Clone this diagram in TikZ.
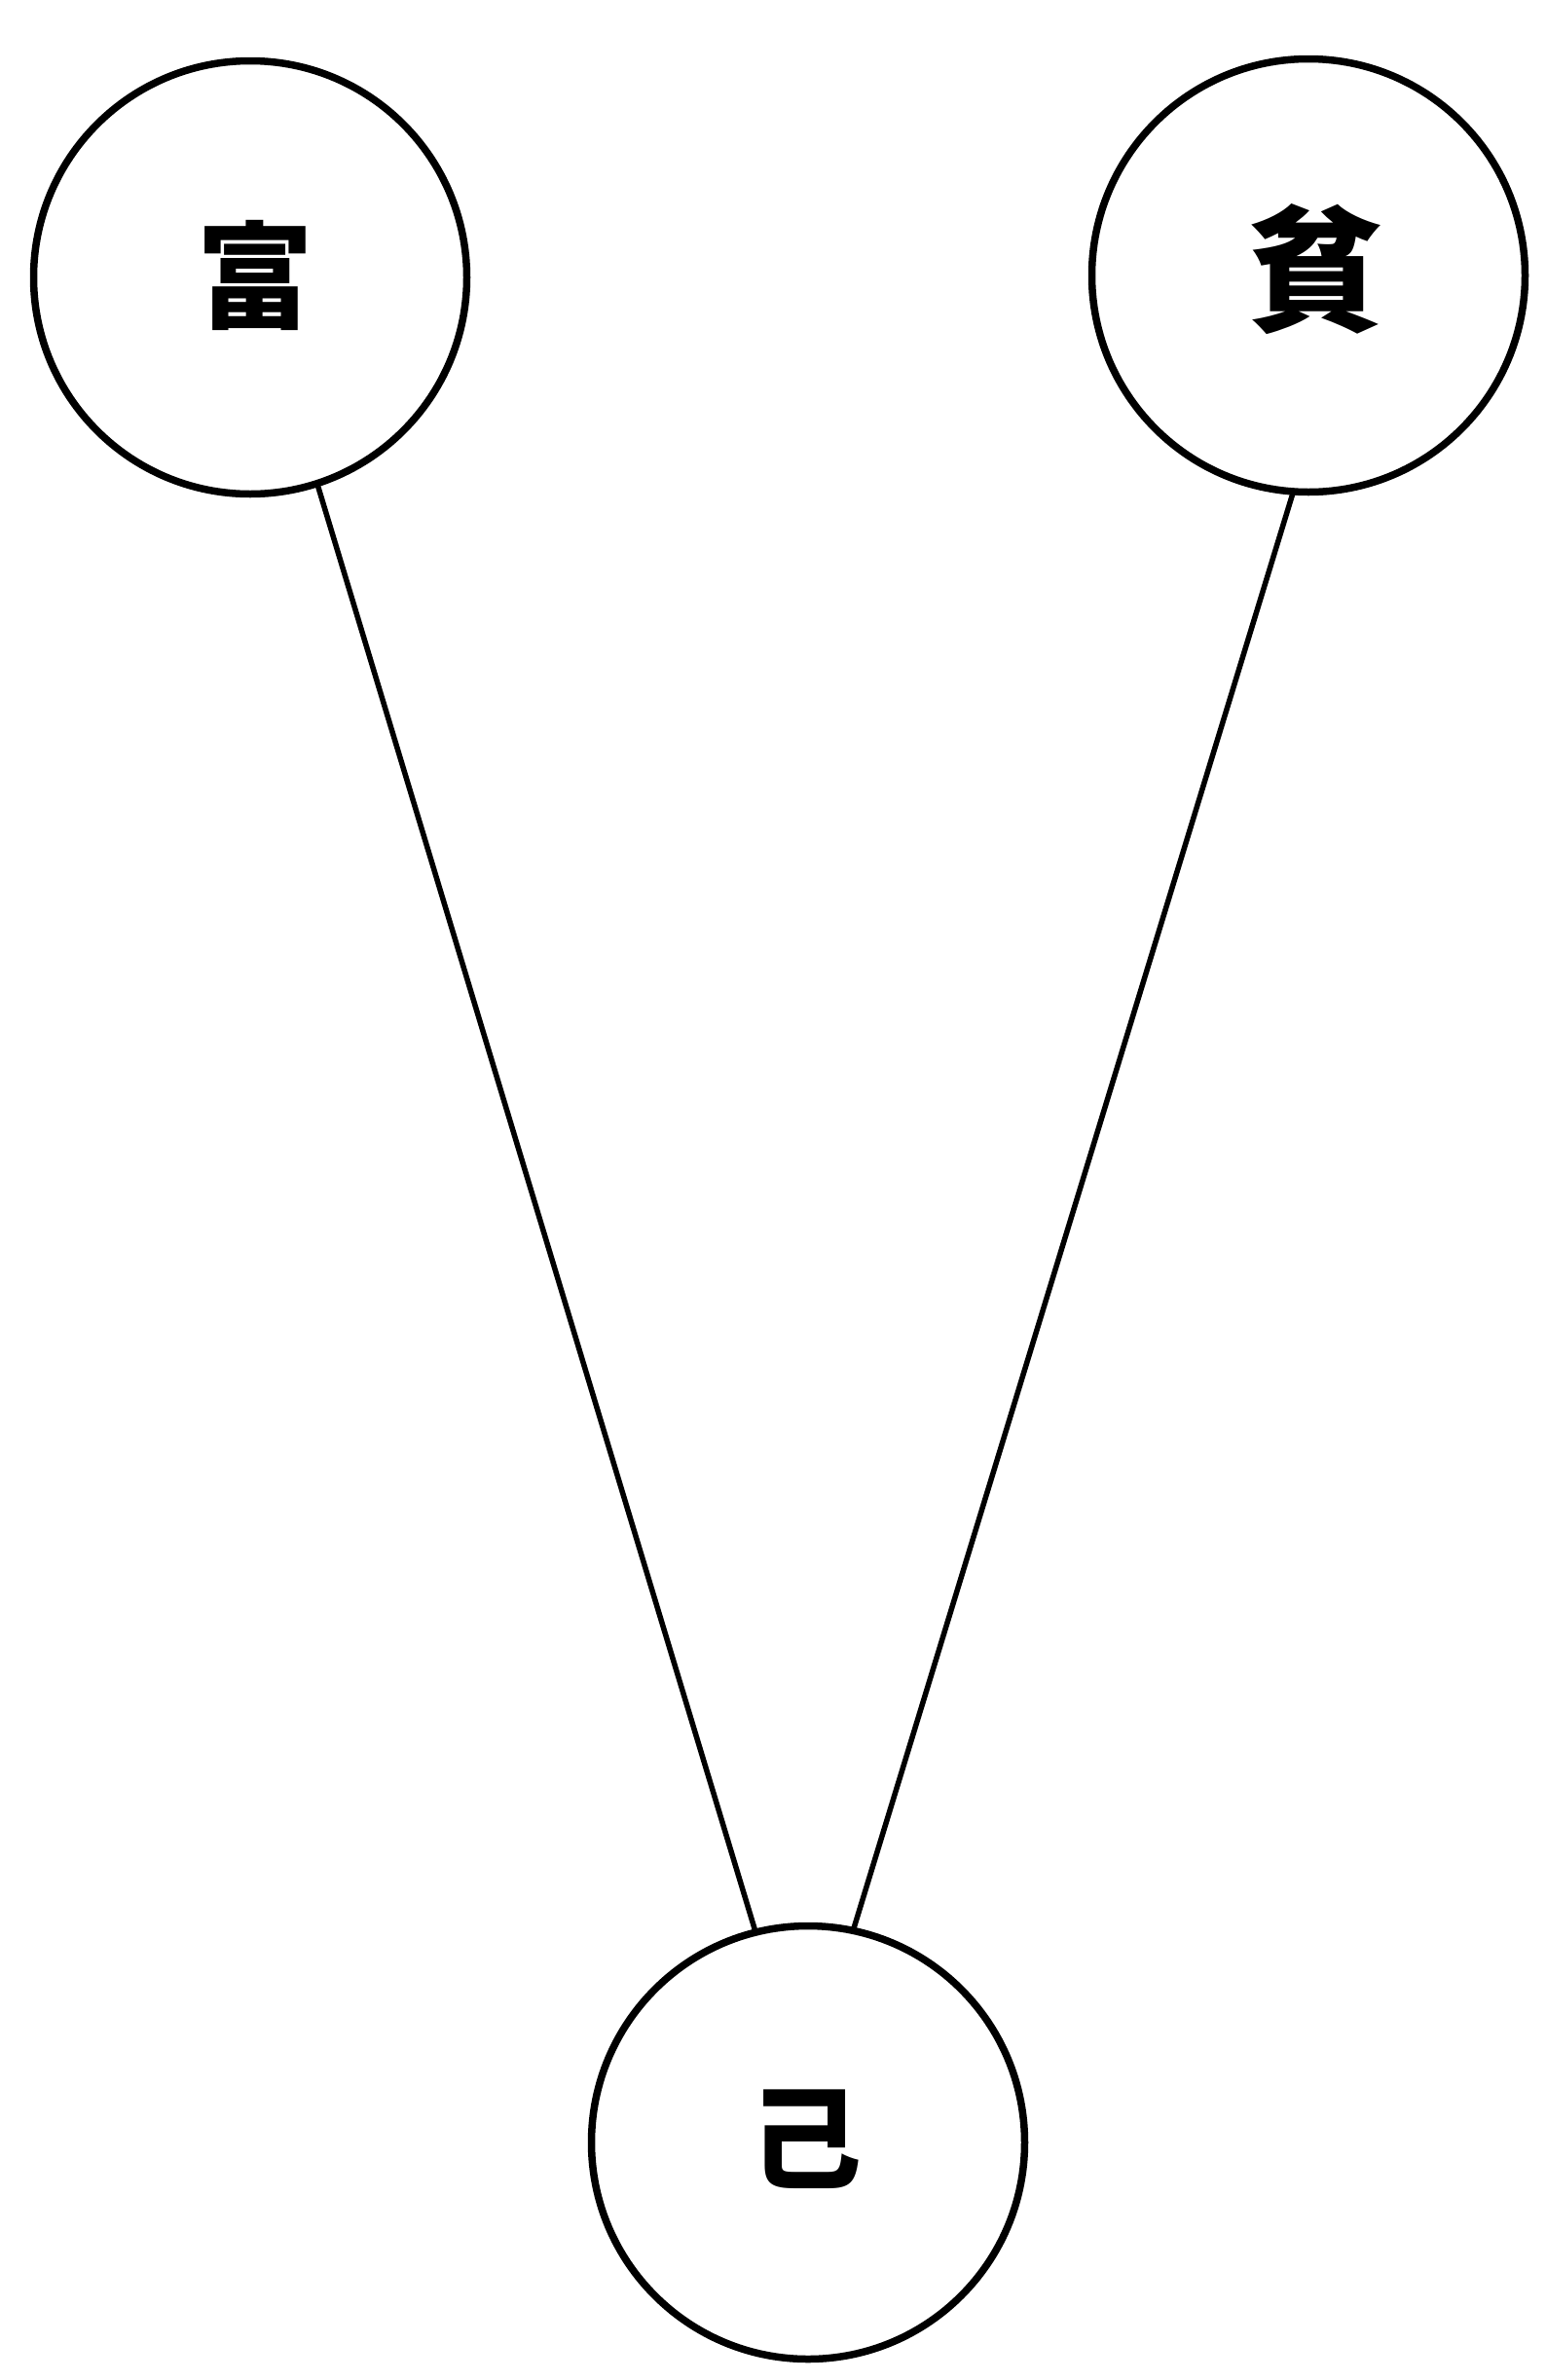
\documentclass[tikz,border=0pt]{standalone}
\usepackage{fontspec}
\newfontfamily\cjk{Noto Sans CJK JP}
\begin{document}
\begin{tikzpicture}[x=1cm,y=1cm,
  orb/.style={circle, draw=black, line width=0.075cm, inner sep=0pt, outer sep=0pt, minimum size=4.45cm},
  glyph/.style={inner sep=0pt},
  tie/.style={draw=black, line width=0.055cm}]
\useasboundingbox[fill=white] (0,0) rectangle (15.88,-24.45);
\node[orb] (fu) at (2.57,-2.85) {};
\node[orb] (pin) at (13.44,-2.83) {};
\node[orb] (ji) at (8.30,-22.01) {};
\node[glyph, font=\cjk\bfseries\fontsize{34}{34}\selectfont] (tfu) at (2.62,-2.83) {富};
\node[glyph, font=\cjk\bfseries\fontsize{40}{40}\selectfont] (tpin) at (13.52,-2.77) {貧};
\node[glyph, font=\cjk\bfseries\fontsize{33}{33}\selectfont] (tji) at (8.27,-21.98) {己};
\draw[tie] (fu.-72.6) -- (ji.104);
\draw[tie] (pin.-94.5) -- (ji.78.6);
\end{tikzpicture}
\end{document}
